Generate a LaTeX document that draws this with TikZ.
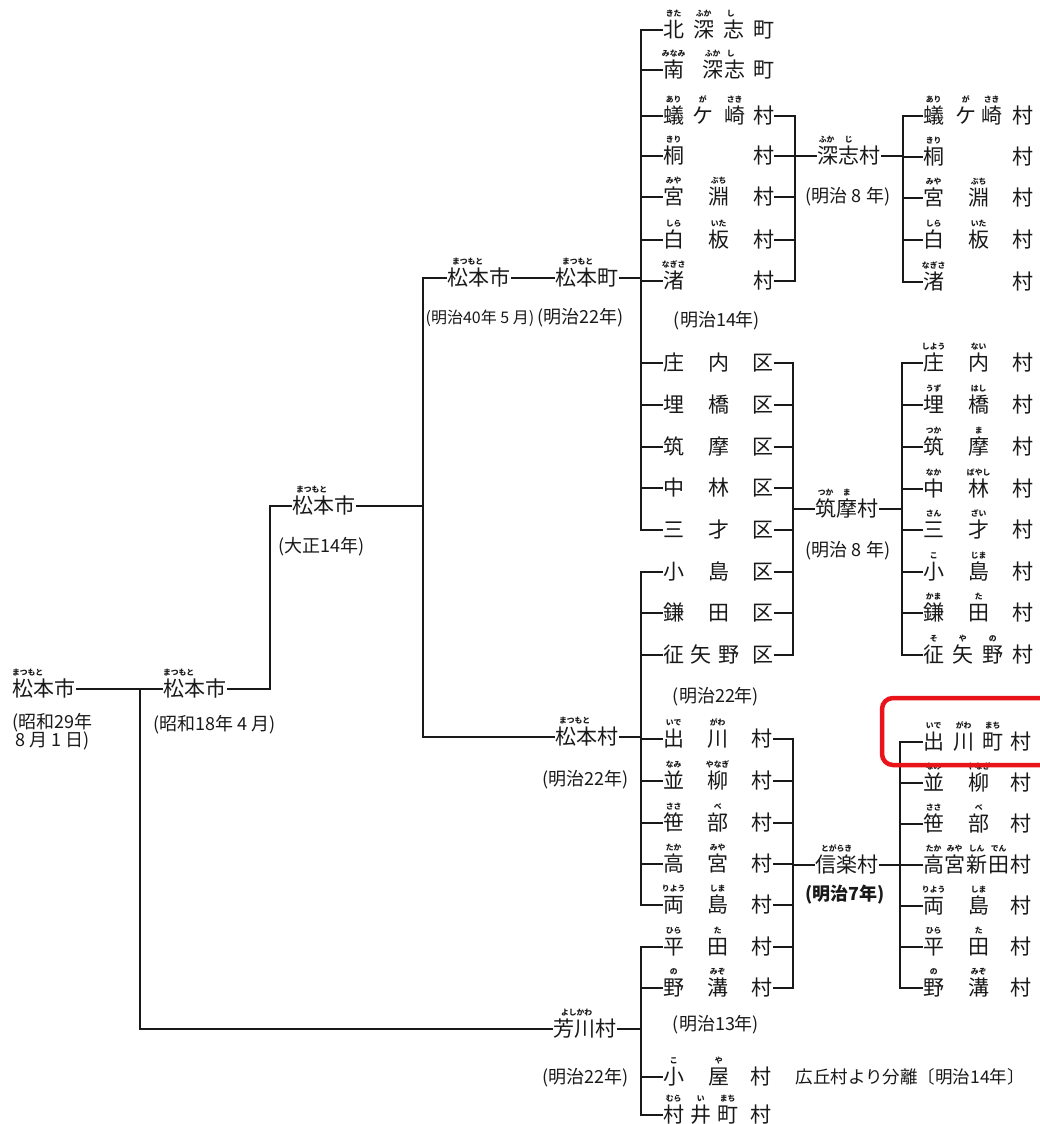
\documentclass[tikz,border=0pt]{standalone}
\usepackage{fontspec}
\setmainfont{Noto Sans CJK JP}
\definecolor{annot}{RGB}{232,20,26}
\definecolor{ink}{RGB}{25,25,25}
\newcommand{\kjc}[2]{\rlap{\hspace*{#1pt}\makebox[0pt]{#2}}}
\newcommand{\rbc}[2]{\rlap{\hspace*{#1pt}\makebox[0pt]{\smash{\raisebox{21pt}{\fontsize{7.8}{8}\selectfont\bfseries #2}}}}}
\begin{document}
\begin{tikzpicture}[x=1pt,y=-1pt,line width=1.3pt,draw=ink,
 ent/.style={inner sep=0pt,anchor=west,text=ink,font=\fontsize{21}{21}\selectfont,text height=16pt,text depth=1pt},
 nen/.style={inner sep=0pt,text=ink,font=\fontsize{18}{18}\selectfont},
 hand/.style={inner sep=0pt,text=ink,font=\fontsize{18}{18}\selectfont\bfseries}]
\useasboundingbox[fill=white] (0,0) rectangle (1039,1124);
% ---------- left part ----------
\node[ent] (a1) at (12,689) {\rbc{15}{まつもと}松本市};
\node[nen,anchor=west] (a1d1) at (12,723) {(昭和29年};
\node[nen,anchor=west] (a1d2) at (15,741) {8 月 1 日)};
\node[ent] (b1) at (163,689) {\rbc{15}{まつもと}松本市};
\node[nen,anchor=west] (b1d) at (153,725) {(昭和18年 4 月)};
\node[ent] (c1) at (292,506) {\rbc{19}{まつもと}松本市};
\node[nen,anchor=west] (c1d) at (278,547) {(大正14年)};
\node[ent] (c2) at (447,278) {\rbc{20}{まつもと}松本市};
\node[ent] (c3) at (555,278) {\rbc{22}{まつもと}松本町};
\node[nen,anchor=west,font=\fontsize{16}{16}\selectfont] (c2d) at (425,318) {(明治40年 5 月)};
\node[nen,anchor=west] (c3d) at (537,318) {(明治22年)};
\node[ent] (c4) at (555,737) {\rbc{19}{まつもと}松本村};
\node[nen,anchor=west] (c4d) at (542,780) {(明治22年)};
\node[ent] (yk) at (553,1029) {\rbc{23}{よしかわ}芳川村};
\node[nen,anchor=west] (ykd) at (542,1078) {(明治22年)};
% ---------- column D ----------
\node[ent] (d1) at (663,30) {\kjc{10}{北}\kjc{40}{深}\kjc{70}{志}\kjc{100}{町}\rbc{10}{きた}\rbc{40}{ふか}\rbc{67}{し}\hspace*{110pt}};
\node[ent] (d2) at (663,70) {\kjc{10}{南}\kjc{49}{深}\kjc{71}{志}\kjc{100}{町}\rbc{10}{みなみ}\rbc{49}{ふか}\rbc{67}{し}\hspace*{110pt}};
\node[ent] (d3) at (663,116) {\kjc{10}{蟻}\kjc{39}{ケ}\kjc{71}{崎}\kjc{100}{村}\rbc{10}{あり}\rbc{39}{が}\rbc{71}{さき}\hspace*{110pt}};
\node[ent] (d4) at (663,156) {\kjc{10}{桐}\kjc{100}{村}\rbc{10}{きり}\hspace*{110pt}};
\node[ent] (d5) at (663,197) {\kjc{10}{宮}\kjc{55}{淵}\kjc{100}{村}\rbc{10}{みや}\rbc{55}{ぶち}\hspace*{110pt}};
\node[ent] (d6) at (663,240) {\kjc{10}{白}\kjc{55}{板}\kjc{100}{村}\rbc{10}{しら}\rbc{55}{いた}\hspace*{110pt}};
\node[ent] (d7) at (663,281) {\kjc{10}{渚}\kjc{100}{村}\rbc{10}{なぎさ}\hspace*{110pt}};
\node[nen] (dn1) at (717,321) {(明治14年)};
\node[ent] (d8) at (663,363) {\kjc{10}{庄}\kjc{55}{内}\kjc{99}{区}\hspace*{110pt}};
\node[ent] (d9) at (663,405) {\kjc{10}{埋}\kjc{55}{橋}\kjc{99}{区}\hspace*{110pt}};
\node[ent] (d10) at (663,447) {\kjc{10}{筑}\kjc{55}{摩}\kjc{99}{区}\hspace*{110pt}};
\node[ent] (d11) at (663,488) {\kjc{10}{中}\kjc{55}{林}\kjc{99}{区}\hspace*{110pt}};
\node[ent] (d12) at (663,530) {\kjc{10}{三}\kjc{55}{才}\kjc{99}{区}\hspace*{110pt}};
\node[ent] (d13) at (663,572) {\kjc{10}{小}\kjc{55}{島}\kjc{99}{区}\hspace*{110pt}};
\node[ent] (d14) at (663,613) {\kjc{10}{鎌}\kjc{55}{田}\kjc{99}{区}\hspace*{110pt}};
\node[ent] (d15) at (663,655) {\kjc{10}{征}\kjc{37}{矢}\kjc{65}{野}\kjc{99}{区}\hspace*{110pt}};
\node[nen] (dn2) at (716,697) {(明治22年)};
\node[ent] (d16) at (663,739) {\kjc{10}{出}\kjc{54}{川}\kjc{98}{村}\rbc{10}{いで}\rbc{54}{がわ}\hspace*{109pt}};
\node[ent] (d17) at (663,781) {\kjc{10}{並}\kjc{54}{柳}\kjc{98}{村}\rbc{10}{なみ}\rbc{54}{やなぎ}\hspace*{109pt}};
\node[ent] (d18) at (663,823) {\kjc{10}{笹}\kjc{54}{部}\kjc{98}{村}\rbc{10}{ささ}\rbc{54}{べ}\hspace*{109pt}};
\node[ent] (d19) at (663,864) {\kjc{10}{高}\kjc{54}{宮}\kjc{98}{村}\rbc{10}{たか}\rbc{54}{みや}\hspace*{109pt}};
\node[ent] (d20) at (663,905) {\kjc{10}{両}\kjc{54}{島}\kjc{98}{村}\rbc{10}{りよう}\rbc{54}{しま}\hspace*{109pt}};
\node[ent] (d21) at (663,947) {\kjc{10}{平}\kjc{54}{田}\kjc{98}{村}\rbc{10}{ひら}\rbc{54}{た}\hspace*{109pt}};
\node[ent] (d22) at (663,988) {\kjc{10}{野}\kjc{54}{溝}\kjc{98}{村}\rbc{10}{の}\rbc{54}{みぞ}\hspace*{109pt}};
\node[nen] (dn3) at (716,1025) {(明治13年)};
\node[ent] (d23) at (663,1077) {\kjc{10}{小}\kjc{55}{屋}\kjc{97}{村}\rbc{10}{こ}\rbc{55}{や}\hspace*{108pt}};
\node[nen,anchor=west,font=\fontsize{17.5}{18}\selectfont] (d23x) at (795,1077) {広丘村より分離〔明治14年〕};
\node[ent] (d24) at (663,1115) {\kjc{10}{村}\kjc{37}{井}\kjc{64}{町}\kjc{97}{村}\rbc{10}{むら}\rbc{37}{い}\rbc{64}{まち}\hspace*{108pt}};
% ---------- column F ----------
\node[ent] (f1) at (817,156) {\rbc{9}{ふか}\rbc{31}{じ}深志村};
\node[nen] (f1d) at (848,197) {(明治 8 年)};
\node[ent] (f2) at (815,509) {\rbc{10}{つか}\rbc{31}{ま}筑摩村};
\node[nen] (f2d) at (848,551) {(明治 8 年)};
\node[ent] (f3) at (815,865) {\rbc{21}{とがらき}信楽村};
\node[hand] (f3d) at (845,895) {(明治7年)};
% ---------- column G ----------
\node[ent] (g1) at (923,116) {\kjc{10}{蟻}\kjc{42}{ケ}\kjc{68}{崎}\kjc{99}{村}\rbc{10}{あり}\rbc{42}{が}\rbc{68}{さき}\hspace*{109pt}};
\node[ent] (g2) at (923,157) {\kjc{10}{桐}\kjc{99}{村}\rbc{10}{きり}\hspace*{109pt}};
\node[ent] (g3) at (923,198) {\kjc{10}{宮}\kjc{55}{淵}\kjc{99}{村}\rbc{10}{みや}\rbc{55}{ぶち}\hspace*{109pt}};
\node[ent] (g4) at (923,240) {\kjc{10}{白}\kjc{55}{板}\kjc{99}{村}\rbc{10}{しら}\rbc{55}{いた}\hspace*{109pt}};
\node[ent] (g5) at (923,282) {\kjc{10}{渚}\kjc{99}{村}\rbc{10}{なぎさ}\hspace*{109pt}};
\node[ent] (g6) at (923,363) {\kjc{10}{庄}\kjc{55}{内}\kjc{99}{村}\rbc{10}{しよう}\rbc{55}{ない}\hspace*{109pt}};
\node[ent] (g7) at (923,405) {\kjc{10}{埋}\kjc{55}{橋}\kjc{99}{村}\rbc{10}{うず}\rbc{55}{はし}\hspace*{109pt}};
\node[ent] (g8) at (923,447) {\kjc{10}{筑}\kjc{55}{摩}\kjc{99}{村}\rbc{10}{つか}\rbc{55}{ま}\hspace*{109pt}};
\node[ent] (g9) at (923,489) {\kjc{10}{中}\kjc{55}{林}\kjc{99}{村}\rbc{10}{なか}\rbc{55}{ばやし}\hspace*{109pt}};
\node[ent] (g10) at (923,530) {\kjc{10}{三}\kjc{55}{才}\kjc{99}{村}\rbc{10}{さん}\rbc{55}{ざい}\hspace*{109pt}};
\node[ent] (g11) at (923,572) {\kjc{10}{小}\kjc{55}{島}\kjc{99}{村}\rbc{10}{こ}\rbc{55}{じま}\hspace*{109pt}};
\node[ent] (g12) at (923,613) {\kjc{10}{鎌}\kjc{55}{田}\kjc{99}{村}\rbc{10}{かま}\rbc{55}{た}\hspace*{109pt}};
\node[ent] (g13) at (923,655) {\kjc{10}{征}\kjc{39}{矢}\kjc{69}{野}\kjc{99}{村}\rbc{10}{そ}\rbc{39}{や}\rbc{69}{の}\hspace*{109pt}};
\node[ent] (g14) at (923,742) {\kjc{10}{出}\kjc{40}{川}\kjc{69}{町}\kjc{97}{村}\rbc{10}{いで}\rbc{40}{がわ}\rbc{69}{まち}\hspace*{107pt}};
\node[ent] (g15) at (923,783) {\kjc{10}{並}\kjc{55}{柳}\kjc{97}{村}\rbc{10}{なみ}\rbc{55}{やなぎ}\hspace*{107pt}};
\node[ent] (g16) at (923,824) {\kjc{10}{笹}\kjc{55}{部}\kjc{97}{村}\rbc{10}{ささ}\rbc{55}{べ}\hspace*{107pt}};
\node[ent] (g17) at (923,865) {\kjc{10}{高}\kjc{31}{宮}\kjc{53}{新}\kjc{75}{田}\kjc{97}{村}\rbc{10}{たか}\rbc{31}{みや}\rbc{53}{しん}\rbc{75}{でん}\hspace*{107pt}};
\node[ent] (g18) at (923,906) {\kjc{10}{両}\kjc{55}{島}\kjc{97}{村}\rbc{10}{りよう}\rbc{55}{しま}\hspace*{107pt}};
\node[ent] (g19) at (923,947) {\kjc{10}{平}\kjc{55}{田}\kjc{97}{村}\rbc{10}{ひら}\rbc{55}{た}\hspace*{107pt}};
\node[ent] (g20) at (923,988) {\kjc{10}{野}\kjc{55}{溝}\kjc{97}{村}\rbc{10}{の}\rbc{55}{みぞ}\hspace*{107pt}};
% ---------- junction coordinates ----------
\coordinate (ja) at (140,689);
\coordinate (jb) at (270,506);
\coordinate (jc) at (423,737);
\coordinate (dx1) at (641,530);
\coordinate (dx2) at (641,905);
\coordinate (dx3) at (641,1115);
\coordinate (ex1) at (795,281);
\coordinate (ex2) at (793,655);
\coordinate (ex3) at (793,988);
\coordinate (gx1) at (903,282);
\coordinate (gx2) at (902,655);
\coordinate (gx3) at (900,988);
% ---------- connectors ----------
\draw (a1.east) -- (b1.west);
\draw (ja) |- (yk.west);
\draw (b1.east) -| (jb) -- (c1.west);
\draw (c1.east) -- (c1.east -| jc);
\draw (c2.west) -| (jc) -- (c4.west);
\draw (c2.east) -- (c3.west);
\draw (c3.east) -- (c3.east -| dx1);
\draw (c4.east) -- (c4.east -| dx2);
\draw (yk.east) -- (yk.east -| dx3);
% column D
\draw (d1.west) -| (dx1) -- (d12.west);
\foreach \n in {d2,d3,d4,d5,d6,d7,d8,d9,d10,d11} \draw (\n.west) -- (\n.west -| dx1);
\draw (d13.west) -| (dx2) -- (d20.west);
\foreach \n in {d14,d15,d16,d17,d18,d19} \draw (\n.west) -- (\n.west -| dx2);
\draw (d21.west) -| (dx3) -- (d24.west);
\foreach \n in {d22,d23} \draw (\n.west) -- (\n.west -| dx3);
% column E
\draw (d3.east) -| (ex1) -- (d7.east);
\foreach \n in {d4,d5,d6} \draw (\n.east) -- (\n.east -| ex1);
\draw (ex1 |- f1.west) -- (f1.west);
\draw (d8.east) -| (ex2) -- (d15.east);
\foreach \n in {d9,d10,d11,d12,d13,d14} \draw (\n.east) -- (\n.east -| ex2);
\draw (ex2 |- f2.west) -- (f2.west);
\draw (d16.east) -| (ex3) -- (d22.east);
\foreach \n in {d17,d18,d19,d20,d21} \draw (\n.east) -- (\n.east -| ex3);
\draw (ex3 |- f3.west) -- (f3.west);
% column G
\draw (g1.west) -| (gx1) -- (g5.west);
\foreach \n in {g2,g3,g4} \draw (\n.west) -- (\n.west -| gx1);
\draw (f1.east) -- (f1.east -| gx1);
\draw (g6.west) -| (gx2) -- (g13.west);
\foreach \n in {g7,g8,g9,g10,g11,g12} \draw (\n.west) -- (\n.west -| gx2);
\draw (f2.east) -- (f2.east -| gx2);
\draw (g14.west) -| (gx3) -- (g20.west);
\foreach \n in {g15,g16,g17,g18,g19} \draw (\n.west) -- (\n.west -| gx3);
\draw (f3.east) -- (f3.east -| gx3);
% ---------- red annotation ----------
\draw[annot,line width=4.5pt,rounded corners=11pt] (882,698) rectangle (1062,765);
\end{tikzpicture}
\end{document}
